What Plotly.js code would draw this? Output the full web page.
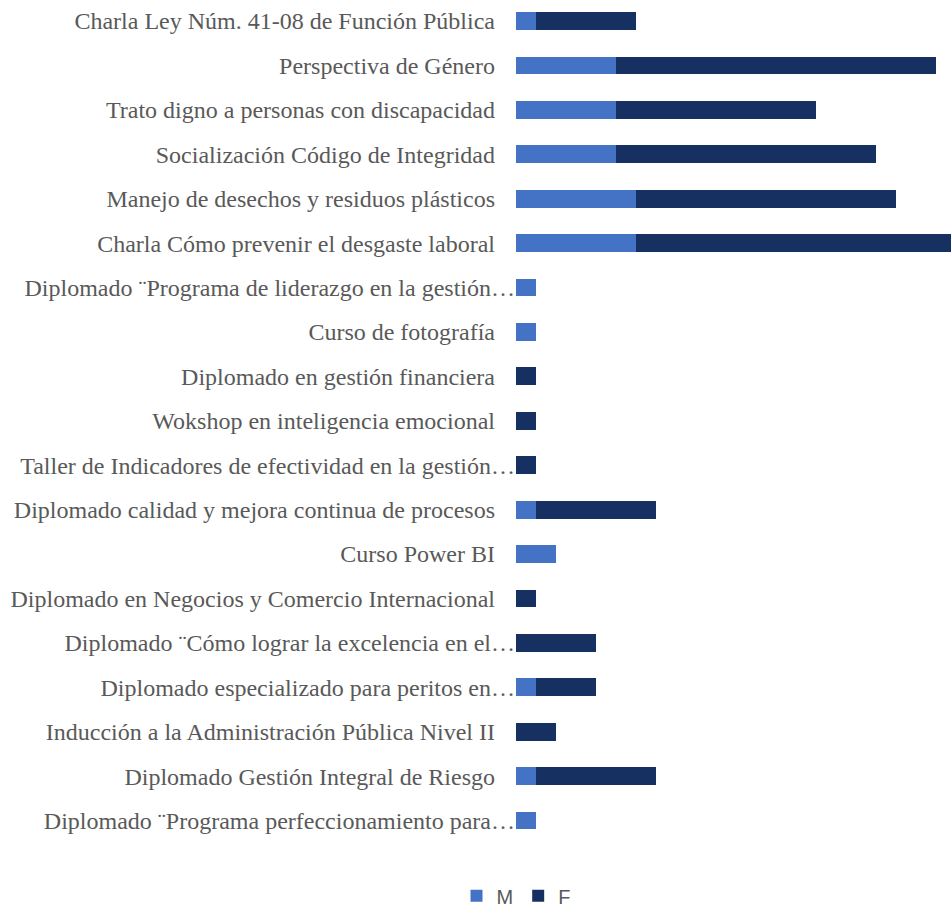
<!DOCTYPE html>
<html>
<head>
<meta charset="utf-8">
<script src="https://cdn.plot.ly/plotly-3.0.1.min.js"></script>
<style>html,body{margin:0;padding:0;background:#fff;}#chart{width:951px;height:908px;}</style>
</head>
<body>
<div id="chart"></div>
<script>
const categories = [
  "Charla Ley Núm. 41-08 de Función Pública",
  "Perspectiva de Género",
  "Trato digno a personas con discapacidad",
  "Socialización Código de Integridad",
  "Manejo de desechos y residuos plásticos",
  "Charla Cómo prevenir el desgaste laboral",
  "Diplomado ¨Programa de liderazgo en la gestión…",
  "Curso de fotografía",
  "Diplomado en gestión financiera",
  "Wokshop en inteligencia emocional",
  "Taller de Indicadores de efectividad en la gestión…",
  "Diplomado calidad y mejora continua de procesos",
  "Curso Power BI",
  "Diplomado en Negocios y Comercio Internacional",
  "Diplomado ¨Cómo lograr la excelencia en el…",
  "Diplomado especializado para peritos en…",
  "Inducción a la Administración Pública Nivel II",
  "Diplomado Gestión Integral de Riesgo",
  "Diplomado ¨Programa perfeccionamiento para…"
];
const valuesM = [1, 5, 5, 5, 6, 6, 1, 1, 0, 0, 0, 1, 2, 0, 0, 1, 0, 1, 1];
const valuesF = [5, 16, 10, 13, 13, 16, 0, 0, 1, 1, 1, 6, 0, 1, 4, 3, 2, 6, 0];

const tickText = categories.map(c => c.endsWith("…") ? c : c + "\u00A0\u00A0\u00A0\u200A");

const traces = [
  {type: "bar", orientation: "h", name: "M", y: categories, x: valuesM,
   marker: {color: "#4472C4", line: {width: 0}}, hoverinfo: "x+y"},
  {type: "bar", orientation: "h", name: "F", y: categories, x: valuesF,
   marker: {color: "#153061", line: {width: 0}}, hoverinfo: "x+y"}
];

const layout = {
  width: 951, height: 908,
  margin: {l: 516, r: 0, t: 0, b: 64},
  barmode: "stack",
  bargap: 0.6,
  paper_bgcolor: "#fff",
  plot_bgcolor: "#fff",
  showlegend: true,
  legend: {orientation: "h", xref: "container", yref: "container", x: 0.5426, xanchor: "center",
           y: 0.0135, yanchor: "middle", font: {family: "Liberation Sans", size: 20, color: "#595959"},
           traceorder: "normal", itemwidth: 30},
  xaxis: {range: [0, 21.75], showgrid: false, zeroline: false, showticklabels: false, showline: false, fixedrange: true},
  yaxis: {type: "category", range: [18.527, -0.4728], tickmode: "array", tickvals: categories, ticktext: tickText,
          showgrid: false, zeroline: false, showline: false, ticks: "", ticklabelstandoff: 0,
          tickfont: {family: "Liberation Serif", size: 24, color: "#595959"}, automargin: false}
};

Plotly.newPlot("chart", traces, layout, {displayModeBar: false, staticPlot: true});
</script>
</body>
</html>
